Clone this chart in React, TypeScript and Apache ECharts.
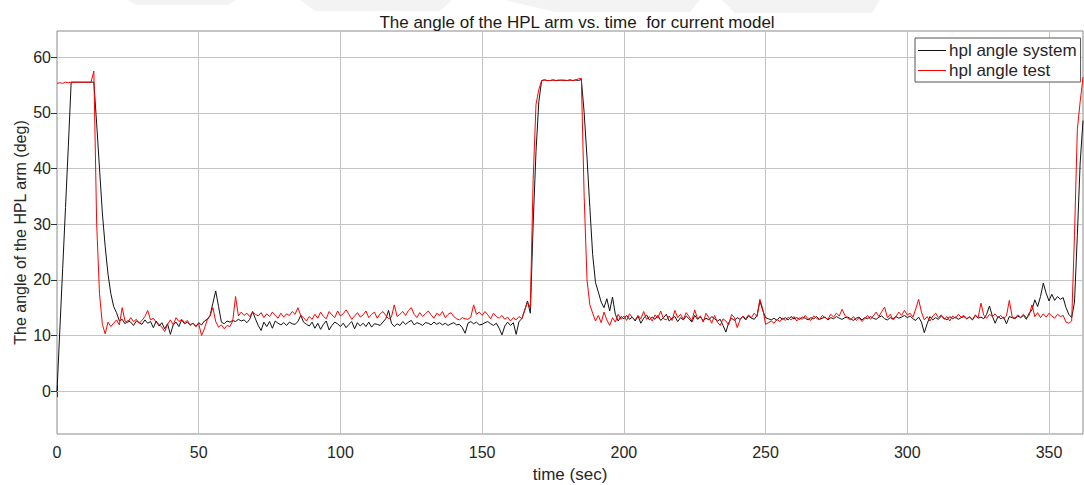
import React, { useEffect, useRef } from "react";
import * as echarts from "echarts";

// Sampled once per second, t = 0 .. 362 s
const systemAngle = [
  0, 11, 22, 33, 44, 55.5, 55.5, 55.5, 55.5, 55.5,
  55.5, 55.5, 55.5, 55.5, 48, 40, 32, 26, 21, 17.5,
  15.2, 14.1, 12.6, 12.9, 12.1, 12.7, 12.4, 11.8, 12.6, 12.3,
  12.0, 12.8, 12.2, 12.5, 11.4, 12.6, 11.7, 12.3, 11.2, 12.1,
  10.2, 11.9, 12.4, 11.6, 12.8, 12.1, 12.4, 11.9, 12.2, 11.6,
  12.3, 11.9, 12.6, 12.9, 13.6, 15.8, 18.0, 15.2, 12.4, 12.1,
  12.6, 12.4, 12.7, 12.5, 12.9, 12.6, 12.8, 12.3, 12.9, 14.3,
  13.0, 11.8, 10.9, 12.4, 11.6, 12.5, 11.3, 12.6, 12.2, 11.9,
  12.3, 11.8, 12.4, 12.1, 12.0, 12.5, 13.6, 12.4, 12.0, 11.7,
  12.4, 11.3, 12.2, 11.1, 12.0, 12.6, 11.0, 11.8, 12.4, 12.1,
  11.6, 12.2, 11.4, 12.0, 12.5, 11.2, 12.3, 11.7, 12.2, 11.6,
  12.4, 11.5, 12.1, 12.0, 11.8, 12.4, 13.0, 14.5, 12.2, 11.6,
  12.1, 11.8, 12.5, 12.0, 12.4, 12.7, 11.9, 12.3, 12.1, 11.8,
  12.3, 12.2, 11.9, 12.4, 12.0, 12.3, 11.9, 12.2, 11.8, 12.1,
  12.3, 11.9, 12.0, 11.4, 10.4, 12.2, 12.5, 12.1, 12.4, 11.9,
  12.0, 12.3, 12.5, 12.1, 11.8, 12.2, 11.3, 10.1, 11.7, 12.4,
  11.8, 12.3, 10.2, 12.5, 13.0, 14.5, 16.2, 14.0, 30.0, 43.0,
  52.0, 55.8, 55.9, 55.8, 55.8, 55.9, 55.8, 55.8, 55.9, 55.8,
  55.8, 55.9, 55.8, 55.9, 55.8, 56.0, 50.0, 42.0, 33.0, 24.5,
  19.5, 17.8, 16.0, 15.0, 16.6, 14.4, 16.9, 13.8, 12.6, 13.4,
  13.0, 13.6, 12.9, 13.3, 12.6, 13.5, 12.2, 13.1, 13.7, 12.8,
  13.3, 12.9, 13.6, 12.7, 13.2, 13.8, 12.6, 13.1, 13.4, 12.5,
  13.2, 12.8, 13.5, 13.0, 12.4, 13.6, 12.9, 13.3, 12.7, 13.1,
  12.8, 13.4, 13.0, 12.6, 12.9, 11.8, 10.6, 12.3, 13.1, 12.7,
  13.2, 12.9, 13.4, 12.8, 13.5, 13.1, 12.9, 13.6, 16.2, 14.5,
  13.2, 13.0, 12.8, 13.1, 12.7, 13.3, 12.9, 13.2, 12.8, 13.4,
  13.0, 13.2, 12.9, 13.3, 13.1, 12.8, 13.2, 13.0, 13.4, 12.9,
  13.1, 13.3, 12.8, 13.2, 13.0, 13.4, 13.1, 12.9, 13.2, 13.3,
  13.0, 12.7, 13.1, 13.3, 12.8, 13.2, 13.0, 13.4, 13.1, 12.9,
  13.3, 13.5, 13.0, 12.8, 13.2, 13.0, 13.4, 13.1, 13.3, 13.6,
  13.2, 13.5, 13.0, 12.7, 13.3, 12.4, 10.5, 12.1, 13.4, 12.8,
  13.2, 12.9, 13.5, 13.1, 12.8, 13.4, 13.0, 13.3, 12.9, 13.2,
  13.4, 13.0, 13.3, 12.8, 13.6, 13.1, 13.3, 13.0, 13.8, 15.3,
  13.5, 12.2, 13.4, 13.0, 13.3, 12.1, 13.4, 13.2, 13.0, 13.5,
  13.2, 13.6, 12.9, 14.0, 14.6, 16.4, 15.2, 17.0, 19.4, 17.6,
  16.2, 17.4, 16.3, 17.0, 16.5, 16.8, 15.0, 13.8, 13.2, 16.0,
  28.0, 41.0, 48.6,
];

const testAngle = [
  55.3, 55.4, 55.3, 55.5, 55.4, 55.5, 55.5, 55.5, 55.5, 55.5,
  55.5, 55.5, 55.5, 57.5, 30.0, 17.5, 12.0, 10.3, 12.4, 11.6,
  12.2, 12.8, 11.9, 15.0, 12.6, 12.3, 13.2, 12.5, 12.9, 12.2,
  12.7, 13.4, 14.5, 12.8, 13.1, 12.4, 12.0, 11.5, 10.7, 12.0,
  12.8, 11.9, 13.2, 12.5, 12.9, 12.3, 12.7, 11.8, 12.2, 11.6,
  12.1, 10.0, 11.2, 12.8, 13.5, 15.0, 12.5, 11.5, 11.9, 11.2,
  11.8, 11.6, 12.6, 17.0, 13.5, 14.2, 13.6, 14.0, 13.4, 14.2,
  13.8, 13.5, 14.1, 13.2, 13.9, 13.4, 14.2, 13.6, 13.1, 14.0,
  13.3, 13.9, 13.6, 14.3, 13.8, 15.0, 13.6, 13.2, 12.6, 13.4,
  12.9, 13.8, 13.1, 14.2, 13.4, 13.0, 14.3, 13.7, 13.2, 14.4,
  13.5, 13.9, 14.6, 13.8, 12.9, 13.5, 14.1, 13.3, 13.7, 14.4,
  13.2, 13.8, 14.2, 13.1, 13.9, 14.3, 13.6, 13.0, 13.3, 15.5,
  13.4, 13.8, 14.3, 13.6, 14.5, 15.0, 13.8, 13.2, 14.1, 13.4,
  13.9, 14.4, 13.7, 13.1, 14.0, 13.6, 14.3, 13.2, 13.8, 14.1,
  13.4, 13.0, 12.8, 13.2, 13.0, 12.9, 13.3, 15.5, 13.8, 14.2,
  13.6, 14.3, 13.7, 13.0, 14.0, 13.4, 13.1, 13.6, 12.9, 13.3,
  12.6, 13.2, 12.8, 13.4, 13.0, 14.5, 16.0, 15.0, 38.0, 51.5,
  54.2, 55.8, 55.9, 55.8, 55.8, 55.9, 55.8, 55.9, 55.8, 55.9,
  55.8, 55.9, 55.8, 55.9, 56.1, 56.2, 35.0, 20.0, 15.5, 14.0,
  12.6, 13.6, 12.3, 14.2, 12.8, 11.8, 13.2, 12.4, 13.8, 12.9,
  13.5, 12.7, 13.9, 13.2, 12.8, 13.6, 13.0, 14.3, 12.9, 13.4,
  12.6, 13.7, 13.1, 14.4, 13.0, 12.8, 13.5, 12.7, 14.5, 13.2,
  13.8, 12.9, 14.1, 13.4, 12.6, 14.6, 13.0, 13.5, 12.4, 14.0,
  13.2, 12.2, 13.6, 12.4, 11.8, 13.0, 12.6, 11.9, 13.8, 13.2,
  11.4, 12.8, 13.5, 13.0, 13.7, 13.2, 14.0, 13.4, 16.5, 14.8,
  12.0, 12.3, 12.6, 12.2, 12.9, 12.5, 13.1, 12.7, 13.3, 12.8,
  13.4, 12.6, 13.2, 12.9, 13.6, 13.0, 12.7, 13.5, 13.1, 12.8,
  13.6, 13.2, 12.9, 13.8, 13.3, 14.0, 13.5, 14.7, 13.6, 13.1,
  12.8, 13.4, 12.7, 13.2, 12.5, 13.0, 13.6, 12.9, 13.5, 14.2,
  13.4, 14.3, 15.1, 13.2, 13.8, 12.8, 13.4, 14.2, 13.6, 14.5,
  13.7, 14.0, 13.3, 14.8, 16.5, 14.2, 12.8, 13.4, 12.6, 13.5,
  14.0, 13.2, 13.7, 12.9, 13.4, 12.6, 13.5, 13.1, 13.8, 13.3,
  13.6, 13.0, 13.4, 12.8, 13.7, 13.2, 15.8, 13.6, 13.1, 13.8,
  13.4, 13.9, 13.2, 13.6, 13.0, 13.5, 16.3, 13.4, 13.1, 13.7,
  13.3, 13.8, 13.2, 13.6, 15.5, 13.4, 14.1, 13.2, 13.9, 13.3,
  14.0, 13.5, 13.1, 13.8, 13.4, 13.6, 12.4, 12.2, 12.6, 28.0,
  47.0, 52.0, 56.4,
];

const seriesNames = ["hpl angle system", "hpl angle test"];
const xTicks = [0, 50, 100, 150, 200, 250, 300, 350];
const yTicks = [0, 10, 20, 30, 40, 50, 60];
const xRange = [0, 362];
const yRange = [-7.7, 64.7];

const FONT = "'Liberation Sans', Arial, Helvetica, sans-serif";
const TEXT = "#262626";
const GRID = "#c4c4c4";
const BOX = "#8a8a8a";
const WATERMARK = "#f3f3f3";

export default function App() {
  const ref = useRef<HTMLDivElement>(null);
  useEffect(() => {
    const chart = echarts.init(ref.current!, null, { renderer: "svg" });
    const sys = systemAngle.map((v, i) => [i, v]);
    const tst = testAngle.map((v, i) => [i, v]);
    const xBase = {
      type: "value",
      min: xRange[0],
      max: xRange[1],
      axisLine: { show: false },
      axisTick: { show: true, inside: true, length: 6, customValues: xTicks, lineStyle: { color: "#333" } },
      splitLine: { show: false },
    };
    const yBase = {
      type: "value",
      min: yRange[0],
      max: yRange[1],
      axisLine: { show: false },
      axisTick: { show: true, inside: true, length: 6, customValues: yTicks, lineStyle: { color: "#333" } },
      splitLine: { show: false },
    };
    chart.setOption({
      animation: false,
      backgroundColor: "#fff",
      graphic: [
        { type: "polygon", silent: true, z: -10, shape: { points: [[128, 0], [236, 0], [228, 5], [136, 5]] }, style: { fill: WATERMARK } },
        { type: "polygon", silent: true, z: -10, shape: { points: [[300, 0], [452, 0], [440, 11], [315, 11]] }, style: { fill: WATERMARK } },
        { type: "polygon", silent: true, z: -10, shape: { points: [[505, 0], [700, 0], [690, 12], [555, 12]] }, style: { fill: WATERMARK } },
        { type: "polygon", silent: true, z: -10, shape: { points: [[722, 0], [880, 0], [872, 13], [735, 13]] }, style: { fill: WATERMARK } },
      ],
      title: {
        text: "The angle of the HPL arm vs. time  for current model",
        left: 572,
        textAlign: "center",
        top: 9,
        textStyle: { fontFamily: FONT, fontSize: 17, fontWeight: "normal", color: "#1a1a1a" },
      },
      grid: {
        left: 57,
        right: 1,
        top: 31,
        bottom: 51,
        containLabel: false,
        outerBoundsMode: "none",
        show: true,
        borderColor: BOX,
        borderWidth: 1,
        backgroundColor: "#fff",
      },
      legend: {
        left: 915,
        top: 38,
        orient: "vertical",
        backgroundColor: "#fff",
        borderColor: "#555",
        borderWidth: 1,
        borderRadius: 0,
        padding: [4, 4, 3, 3],
        itemGap: 3,
        itemWidth: 28,
        itemHeight: 1,
        icon: "rect",
        data: seriesNames,
        textStyle: { fontFamily: FONT, fontSize: 17, color: TEXT, padding: [0, 0, 0, -2] },
      },
      xAxis: [
        {
          ...xBase,
          position: "bottom",
          name: "time (sec)",
          nameLocation: "middle",
          nameGap: 32,
          nameMoveOverlap: false,
          nameTextStyle: { fontFamily: FONT, fontSize: 17, color: TEXT },
          axisLabel: { customValues: xTicks, fontFamily: FONT, fontSize: 16, color: TEXT, margin: 10 },
          splitLine: { show: false },
        },
        { ...xBase, position: "top", axisLabel: { show: false } },
      ],
      yAxis: [
        {
          ...yBase,
          position: "left",
          name: "The angle of the HPL arm (deg)",
          nameLocation: "middle",
          nameRotate: 90,
          nameGap: 29,
          nameMoveOverlap: false,
          nameTextStyle: { fontFamily: FONT, fontSize: 16, color: TEXT },
          axisLabel: { customValues: yTicks, fontFamily: FONT, fontSize: 16, color: TEXT, margin: 6 },
        },
        { ...yBase, position: "right", axisLabel: { show: false } },
      ],
      series: [
        {
          name: seriesNames[0],
          type: "line",
          data: sys,
          showSymbol: false,
          symbol: "none",
          lineStyle: { color: "#111", width: 1 },
          itemStyle: { color: "#111" },
          z: 3,
          markLine: {
            silent: true,
            symbol: "none",
            label: { show: false },
            lineStyle: { color: GRID, width: 1, type: "solid" },
            data: [
              ...xTicks.filter((v) => v > xRange[0]).map((v) => ({ xAxis: v })),
              ...yTicks.map((v) => ({ yAxis: v })),
            ],
            z: 1,
          },
        },
        {
          name: seriesNames[1],
          type: "line",
          data: tst,
          showSymbol: false,
          symbol: "none",
          lineStyle: { color: "#ff0000", width: 1 },
          itemStyle: { color: "#ff0000" },
          z: 4,
        },
      ],
    });
    return () => chart.dispose();
  }, []);
  return (
    <div
      ref={ref}
      style={{ position: "fixed", left: 0, top: 0, width: 1084, height: 485, background: "#fff" }}
    />
  );
}
